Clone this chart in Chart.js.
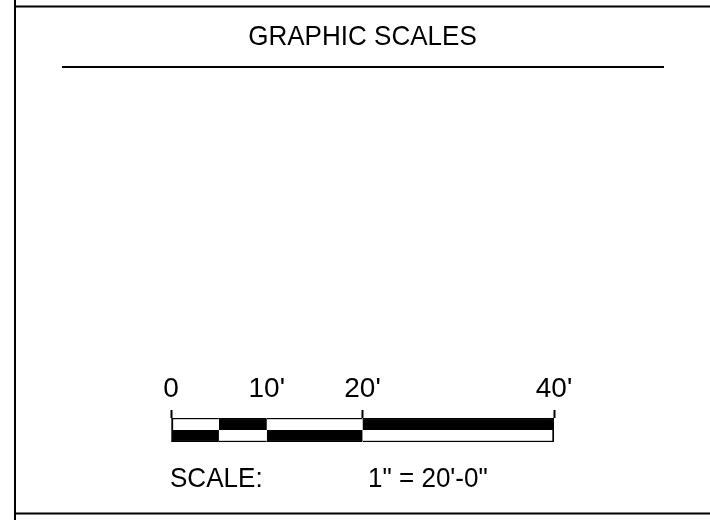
<!DOCTYPE html>
<html>
<head>
<meta charset="utf-8">
<script src="https://cdn.jsdelivr.net/npm/chart.js@4/dist/chart.umd.min.js"></script>
<style>
  html, body { margin: 0; padding: 0; background: #fff; }
  #wrap { width: 710px; height: 520px; position: relative; }
</style>
</head>
<body>
<div id="wrap"><canvas id="escala"></canvas></div>
<script>
// dados da escala grafica
var linhas = ['superior', 'inferior'];
var inicioSeg = [0, 5, 10, 20];
var fimSeg = [5, 10, 20, 40];
var corSuperior = ['#ffffff', '#000000', '#ffffff', '#000000'];
var corInferior = ['#000000', '#ffffff', '#000000', '#ffffff'];
var valoresTick = [0, 10, 20, 40];
var rotulosTick = ['0', "10'", "20'", "40'"];
var tickSemMarca = [10];
var titulo = 'GRAPHIC SCALES';
var textoEscala = 'SCALE:';
var textoRazao = '1" = 20\'-0"';

var fonte = '"Liberation Sans", Arial, sans-serif';

function textoComprimido(ctx, txt, x, y, align) {
    ctx.save();
    ctx.font = '28px ' + fonte;
    ctx.fillStyle = '#000';
    ctx.textBaseline = 'alphabetic';
    ctx.textAlign = align;
    ctx.translate(x, y);
    ctx.scale(0.93, 1);
    ctx.fillText(txt, 0, 0);
    ctx.restore();
}

// moldura, titulo e legenda da escala
var moldura = {
    id: 'moldura',
    afterDraw: function(chart) {
        var ctx = chart.ctx;
        ctx.save();
        ctx.strokeStyle = '#000';
        ctx.lineWidth = 2;
        ctx.beginPath();
        ctx.moveTo(15, 0); ctx.lineTo(15, 520);
        ctx.moveTo(15, 6.5); ctx.lineTo(710, 6.5);
        ctx.moveTo(15, 513.5); ctx.lineTo(710, 513.5);
        ctx.moveTo(62, 67); ctx.lineTo(664, 67);
        ctx.stroke();
        ctx.restore();

        textoComprimido(ctx, titulo, 362.5, 45, 'center');
        textoComprimido(ctx, textoEscala, 170, 487, 'left');
        textoComprimido(ctx, textoRazao, 368, 487, 'left');
    }
};

var ultimo = inicioSeg.length - 1;
var datasets = inicioSeg.map(function(ini, i) {
    return {
        data: linhas.map(function() { return [ini, fimSeg[i]]; }),
        backgroundColor: [corSuperior[i], corInferior[i]],
        borderColor: '#000',
        borderSkipped: false,
        borderWidth: function(c) {
            return {
                top: c.dataIndex === 0 ? 1.5 : 0,
                bottom: c.dataIndex === 1 ? 1.5 : 0,
                left: i === 0 ? 2 : 0,
                right: i === ultimo ? 2 : 0
            };
        },
        grouped: false,
        barPercentage: 1,
        categoryPercentage: 1
    };
});

new Chart(document.getElementById('escala'), {
    type: 'bar',
    data: { labels: linhas, datasets: datasets },
    options: {
        indexAxis: 'y',
        responsive: true,
        maintainAspectRatio: false,
        animation: false,
        layout: { padding: { top: 370, left: 171, right: 156, bottom: 78 } },
        plugins: {
            legend: { display: false },
            tooltip: { enabled: false },
            title: { display: false }
        },
        scales: {
            x: {
                type: 'linear',
                position: 'top',
                min: 0,
                max: 40,
                afterBuildTicks: function(s) {
                    s.ticks = valoresTick.map(function(v) { return { value: v }; });
                },
                afterFit: function(s) { s.height = 48; },
                border: { display: false },
                grid: {
                    drawOnChartArea: false,
                    drawTicks: true,
                    tickLength: 8,
                    tickWidth: 2,
                    tickColor: function(c) {
                        return (c.tick && tickSemMarca.indexOf(c.tick.value) >= 0) ? 'rgba(0,0,0,0)' : '#000';
                    }
                },
                ticks: {
                    autoSkip: false,
                    maxRotation: 0,
                    padding: 4,
                    color: '#000',
                    font: { family: fonte, size: 28 },
                    callback: function(v, i) { return rotulosTick[i]; }
                }
            },
            y: {
                display: false
            }
        }
    },
    plugins: [moldura]
});
</script>
</body>
</html>
